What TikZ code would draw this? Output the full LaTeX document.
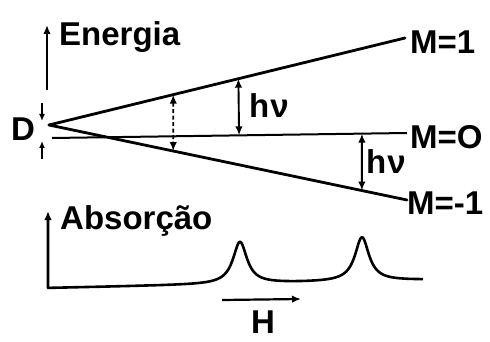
\documentclass[tikz,border=0pt]{standalone}
\usepackage{fontspec}
\setmainfont{Liberation Sans}
\usetikzlibrary{arrows.meta,calc}

\tikzset{
  lbl/.style={inner sep=0pt, anchor=base west, font=\fontsize{33}{38}\selectfont\bfseries},
  level/.style={line width=2.8pt, line cap=round},
  gap/.style={line width=1.9pt, {Latex[length=9pt,width=7.5pt]}-{Latex[length=9pt,width=7.5pt]}},
  axis/.style={line width=2.2pt, -{Latex[length=9pt,width=7.5pt]}}
}

\begin{document}
\begin{tikzpicture}[x=1pt, y=-1pt]
  \useasboundingbox (0,0) rectangle (490,342);

  % Energy axis
  \coordinate (eb) at (47,90);
  \coordinate (et) at (47,25);
  \draw[axis] (eb) -- (et);
  \node[lbl] (energia) at (59,46) {Energia};

  % Splitting point D and the three levels
  \node[lbl] (dlabel) at (11,141) {D};
  \coordinate (apex) at (49,125);
  \coordinate (up) at (405,38);
  \coordinate (lo) at (407,200);
  \coordinate (mida) at (52,138);
  \coordinate (midb) at (407,133);
  \draw[level] (apex) -- (up);
  \draw[level] (apex) -- (lo);
  \draw[line width=2pt] (mida) -- (midb);

  % small arrows at D
  \coordinate (da) at (42,103);
  \coordinate (db) at (42,121);
  \coordinate (dc) at (42,159);
  \coordinate (dd) at (42,141);
  \draw[line width=1.6pt, -{Latex[length=7pt,width=6pt]}] (da) -- (db);
  \draw[line width=1.6pt, -{Latex[length=7pt,width=6pt]}] (dc) -- (dd);

  % Level labels
  \node[lbl] (m1) at (410,54) {M=1};
  \node[lbl] (m0) at (410,149) {M=O};
  \node[lbl] (mm1) at (407,214) {M=-1};

  % Energy gaps
  \coordinate (g1) at ($(apex)!0.349!(up)$);
  \coordinate (g2) at ($(apex)!0.347!(lo)$);
  \draw[gap, dash pattern=on 4pt off 2.5pt] (g1) -- (g2);

  \coordinate (h1) at ($(apex)!0.532!(up)$);
  \coordinate (h2) at ($(mida)!0.527!(midb)$);
  \draw[gap] (h1) -- (h2);
  \node[lbl] (hv1) at (249,118) {h\kern1pt ν};

  \coordinate (h3) at ($(mida)!0.873!(midb)$);
  \coordinate (h4) at ($(apex)!0.874!(lo)$);
  \draw[gap] (h3) -- (h4);
  \node[lbl] (hv2) at (366,174) {h\kern1pt ν};

  % Absorption spectrum
  \node[lbl] (absorcao) at (60,229) {Absorção};
  \coordinate (at) at (48,211);
  \coordinate (corner) at (48,288);
  \draw[line width=2.6pt, line join=round, {Latex[length=9pt,width=7.5pt]}-] (at) -- (corner)
    -- plot[domain=48:423, samples=300, smooth]
      (\x, {288 - 0.0213*(\x-48) - 42/(1+((\x-240)/8.5)^2) - 44/(1+((\x-362)/8.5)^2)});

  % Field direction
  \coordinate (ha) at (222,300);
  \coordinate (hb) at (301,299);
  \draw[axis] (ha) -- (hb);
  \node[lbl] (hlabel) at (251,333) {H};
\end{tikzpicture}
\end{document}
